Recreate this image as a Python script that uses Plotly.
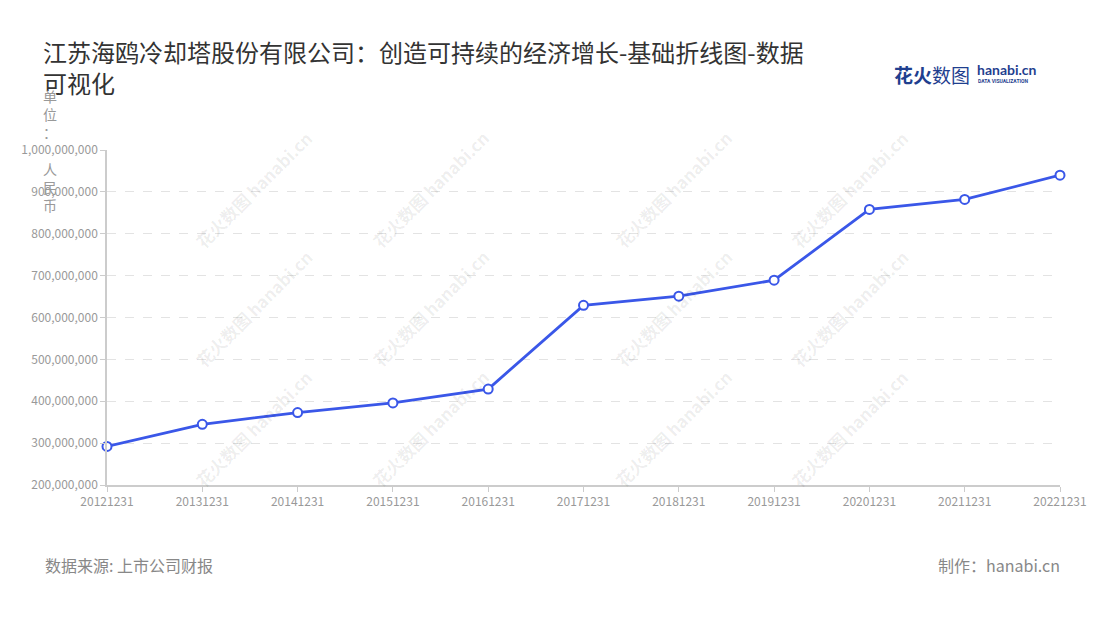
import plotly.graph_objects as go

# data (unit: RMB)
dates = ["20121231", "20131231", "20141231", "20151231", "20161231", "20171231",
         "20181231", "20191231", "20201231", "20211231", "20221231"]
revenue = [292e6, 345e6, 373e6, 396e6, 429e6, 629e6, 651e6, 689e6, 858e6, 882e6, 940e6]

y_ticks = [200e6, 300e6, 400e6, 500e6, 600e6, 700e6, 800e6, 900e6, 1000e6]

title_text = "江苏海鸥冷却塔股份有限公司：创造可持续的经济增长-基础折线图-数据<br>可视化"
source_text = "数据来源: 上市公司财报"
maker_text = "制作：hanabi.cn"
unit_chars = ["单", "位", "：", " ", "人", "民", "币"]

FONT = "Noto Sans CJK SC"
W, H = 1100, 620
OFF = 8  # page body margin shifts everything by 8px
L, R, T, B = 107 - OFF, 40 + OFF, 150 - OFF, 135 + OFF
pw, ph = W - L - R, H - T - B


def px_x(x):  # screen pixel -> paper
    return (x - OFF - L) / pw


def px_y(y):
    return (H - B - (y - OFF)) / ph


fig = go.Figure()

fig.add_trace(go.Scatter(
    x=dates,
    y=revenue,
    mode="lines+markers",
    line=dict(color="#3a57e8", width=2.8),
    marker=dict(size=9, color="white", line=dict(color="#3a57e8", width=2)),
    hoverinfo="x+y",
    cliponaxis=False,
    showlegend=False,
))

annotations = []

# watermarks
for cx in [187, 430, 673, 916]:
    for cy in [123, 308, 495]:
        annotations.append(dict(
            xref="paper", yref="paper", x=px_x(cx), y=px_y(cy),
            text="<b>花火数图</b> <b>hanabi.cn</b>",
            textangle=-45, showarrow=False,
            font=dict(family=FONT, size=17, color="rgba(0,0,0,0.075)"),
        ))

# unit label stacked vertically
annotations.append(dict(
    xref="paper", yref="paper", x=px_x(50), y=px_y(84),
    xanchor="center", yanchor="top",
    text="<br>".join(unit_chars), showarrow=False, align="center",
    font=dict(family=FONT, size=14, color="#999999"),
))

# footer
annotations.append(dict(
    xref="paper", yref="paper", x=px_x(43), y=px_y(565),
    xanchor="left", yanchor="middle", text=source_text, showarrow=False,
    font=dict(family=FONT, size=16, color="#888888"),
))
annotations.append(dict(
    xref="paper", yref="paper", x=px_x(1062), y=px_y(565),
    xanchor="right", yanchor="middle", text=maker_text, showarrow=False,
    font=dict(family=FONT, size=16, color="#888888"),
))

# logo top right
annotations.append(dict(
    xref="paper", yref="paper", x=px_x(972), y=px_y(74),
    xanchor="right", yanchor="middle", text="<b>花火</b>数图", showarrow=False,
    font=dict(family=FONT, size=19, color="#1f3f8f"),
))
annotations.append(dict(
    xref="paper", yref="paper", x=px_x(975), y=px_y(70),
    xanchor="left", yanchor="middle", text="<b>hanabi.cn</b>", showarrow=False,
    font=dict(family="Lato", size=14, color="#1f3f8f"),
))
annotations.append(dict(
    xref="paper", yref="paper", x=px_x(976), y=px_y(81),
    xanchor="left", yanchor="middle", text="<b>DATA VISUALIZATION</b>", showarrow=False,
    font=dict(family="Roboto", size=5, color="#1f3f8f"),
))

fig.update_layout(
    width=W, height=H,
    margin=dict(l=L, r=R, t=T, b=B),
    paper_bgcolor="white",
    plot_bgcolor="white",
    font=dict(family=FONT, color="#999999"),
    title=dict(
        text=title_text,
        xref="container", yref="container",
        x=(43 - OFF) / W, y=1 - (62 - OFF) / H, xanchor="left", yanchor="top",
        font=dict(family=FONT, size=24, color="#333333"),
    ),
    xaxis=dict(
        type="category",
        range=[0, len(dates) - 1],
        showgrid=False,
        showline=True, linecolor="#cccccc", linewidth=1.5,
        ticks="outside", tickcolor="#cccccc", ticklen=5,
        tickfont=dict(size=12, color="#999999"),
    ),
    yaxis=dict(
        range=[200e6, 1000e6],
        tickvals=y_ticks,
        tickformat=",d",
        showgrid=True, gridcolor="#e3e3e3", griddash="dash",
        showline=True, linecolor="#cccccc", linewidth=1.5,
        ticks="outside", tickcolor="#cccccc", ticklen=5,
        tickfont=dict(size=12, color="#999999"),
        zeroline=False,
    ),
    annotations=annotations,
)

fig.write_html("out.html")
